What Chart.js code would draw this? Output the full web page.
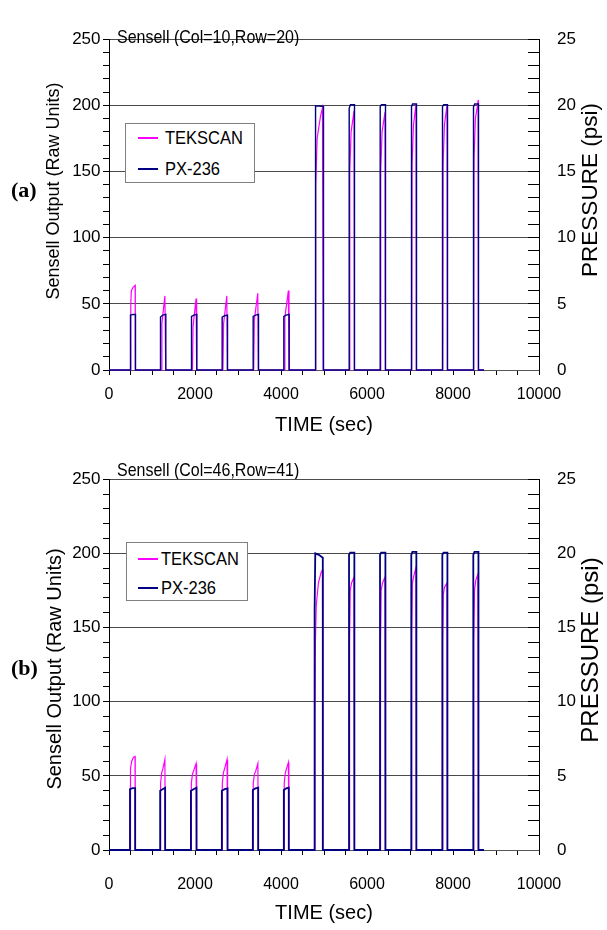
<!DOCTYPE html>
<html>
<head>
<meta charset="utf-8">
<script src="https://cdn.jsdelivr.net/npm/chart.js@4.4.1/dist/chart.umd.min.js"></script>
<style>
  html, body { margin: 0; padding: 0; background: #fff; }
  #wrap { position: relative; width: 607px; height: 930px; overflow: hidden; background: #fff;
          font-family: "Liberation Sans", Arial, sans-serif; color: #000; }
  canvas { position: absolute; left: 0; }
  .txt { position: absolute; white-space: nowrap; line-height: 1; transform-origin: 0 50%; transform: scaleY(1.12); }
  .rot { position: absolute; white-space: nowrap; line-height: 1; transform: translate(-50%, -50%) rotate(-90deg); }
  .panel { position: absolute; font-family: "Liberation Serif", "Times New Roman", serif; font-weight: bold; font-size: 22px; line-height: 1; }
  .legend { position: absolute; border: 1px solid #808080; background: #fff; box-sizing: border-box; }
  .lrow { position: absolute; left: 0; right: 0; height: 20px; }
  .sw { position: absolute; top: 9px; width: 20px; height: 2px; }
  .lt { position: absolute; top: 1px; font-size: 16.5px; line-height: 1; transform-origin: 0 50%; transform: scaleY(1.1); }
</style>
</head>
<body>
<div id="wrap">
  <canvas id="chartA" width="607" height="440" style="top:0px;width:607px;height:440px"></canvas>
  <canvas id="chartB" width="607" height="490" style="top:440px;width:607px;height:490px"></canvas>

  <div class="rot" style="left:53px;top:191px;font-size:18px">Sensell Output (Raw Units)</div>
  <div class="rot" style="left:590px;top:190px;font-size:22.5px">PRESSURE (psi)</div>
  <div class="rot" style="left:54px;top:669px;font-size:20px">Sensell Output (Raw Units)</div>
  <div class="rot" style="left:590px;top:650px;font-size:24px">PRESSURE (psi)</div>

  <div class="panel" style="left:11px;top:179px">(a)</div>
  <div class="panel" style="left:11px;top:657px">(b)</div>

  <div class="txt" style="left:117px;top:29px;font-size:16px">Sensell (Col=10,Row=20)</div>
  <div class="txt" style="left:117px;top:462px;font-size:16px">Sensell (Col=46,Row=41)</div>

  <div class="legend" style="left:125px;top:123px;width:130px;height:60px">
    <div class="lrow" style="top:4px"><div class="sw" style="left:12px;background:#ff00ff"></div><div class="lt" style="left:39px">TEKSCAN</div></div>
    <div class="lrow" style="top:35px"><div class="sw" style="left:12px;background:#000080"></div><div class="lt" style="left:39px">PX-236</div></div>
  </div>
  <div class="legend" style="left:126px;top:542px;width:122px;height:59px">
    <div class="lrow" style="top:6px"><div class="sw" style="left:11px;background:#ff00ff"></div><div class="lt" style="left:34px">TEKSCAN</div></div>
    <div class="lrow" style="top:35px"><div class="sw" style="left:11px;background:#000080"></div><div class="lt" style="left:34px">PX-236</div></div>
  </div>
</div>

<script>
// ---------- axis ranges / labels ----------
const timeRange = [0, 10000];        // TIME (sec)
const rawRange = [0, 250];           // Sensell Output (Raw Units)
const psiRange = [0, 25];            // PRESSURE (psi)
const seriesNames = ['TEKSCAN', 'PX-236'];

// ---------- panel (a): Sensell (Col=10,Row=20) ----------
const pxTimeA = [0,
  500,500,560,616,616,
  1198,1198,1250,1321,1321,
  1919,1919,1975,2042,2042,
  2632,2632,2690,2756,2756,
  3353,3353,3410,3477,3477,
  4066,4066,4120,4190,4190,
  4795,4795,4812,4900,4988,4988,
  5586,5586,5615,5709,5709,
  6307,6307,6335,6430,6430,
  7035,7035,7060,7151,7151,
  7756,7756,7785,7872,7872,
  8477,8477,8505,8593,8593,
  8720];
const pxPsiA = [0,
  0,4.15,4.2,4.2,0,
  0,4.0,4.15,4.2,0,
  0,4.05,4.15,4.2,0,
  0,4.0,4.1,4.15,0,
  0,4.05,4.15,4.2,0,
  0,4.05,4.15,4.2,0,
  0,16.2,19.95,19.95,19.9,0,
  0,19.8,20.05,20.05,0,
  0,19.9,20.05,20.05,0,
  0,19.9,20.1,20.1,0,
  0,19.9,20.05,20.05,0,
  0,19.9,20.1,20.1,0,
  0];
const tekTimeA = [0,
  505,507,520,560,608,612,
  1215,1230,1300,1318,
  1940,1955,2025,2038,
  2650,2665,2740,2752,
  3365,3380,3460,3473,
  4075,4090,4172,4186,
  4800,4808,4840,4920,4965,4980,
  5592,5600,5630,5700,5706,
  6313,6320,6350,6420,6427,
  7040,7048,7080,7140,7148,
  7762,7770,7800,7862,7869,
  8482,8490,8520,8570,8585,8590,
  8720];
const tekRawA = [0,
  0,50,60,62.5,64,0,
  0,35,56,0,
  0,33,54,0,
  0,35,56,0,
  0,38,58,0,
  0,40,60,0,
  0,140,175,192,198,0,
  0,150,180,196,0,
  0,150,180,195,0,
  0,155,185,201,0,
  0,155,185,200.5,0,
  0,160,190,200,204,0,
  0];

// ---------- panel (b): Sensell (Col=46,Row=41) ----------
const pxTimeB = [0,
  488,488,550,609,609,
  1190,1190,1245,1306,1306,
  1905,1905,1965,2035,2035,
  2624,2624,2690,2756,2756,
  3345,3345,3405,3470,3470,
  4066,4066,4120,4181,4181,
  4782,4782,4797,4880,4972,4972,
  5582,5582,5610,5706,5706,
  6303,6303,6330,6428,6428,
  7030,7030,7055,7148,7148,
  7752,7752,7780,7870,7870,
  8472,8472,8500,8592,8592,
  8720];
const pxPsiB = [0,
  0,4.1,4.17,4.17,0,
  0,4.0,4.1,4.2,0,
  0,4.0,4.1,4.2,0,
  0,4.0,4.1,4.15,0,
  0,4.05,4.15,4.2,0,
  0,4.05,4.15,4.2,0,
  0,16.2,20.0,19.9,19.7,0,
  0,19.9,20.05,20.05,0,
  0,19.9,20.05,20.05,0,
  0,19.9,20.1,20.1,0,
  0,19.9,20.05,20.05,0,
  0,19.9,20.1,20.1,0,
  0];
const tekTimeB = [0,
  492,495,505,530,570,605,610,
  1195,1200,1225,1255,1300,1308,
  1910,1915,1940,1975,2025,2037,
  2630,2635,2660,2690,2745,2758,
  3350,3355,3380,3410,3462,3472,
  4070,4075,4100,4130,4172,4183,
  4785,4788,4790,4800,4820,4870,4930,4965,4975,
  5590,5595,5610,5640,5700,5708,
  6310,6315,6330,6360,6420,6430,
  7035,7040,7055,7090,7140,7150,
  7757,7762,7775,7800,7860,7870,
  8478,8483,8500,8530,8580,8592,
  8720];
const tekRawB = [0,
  0,48,55,60,62.5,63,0,
  0,45,52,55,61,0,
  0,45,51,54,58.3,0,
  0,45,52,55,61,0,
  0,45,51,53,58.3,0,
  0,45,52,55,59,0,
  0,68,89,140,165,180,187,189,0,
  0,140,175,180,184,0,
  0,140,175,180,184,0,
  0,145,180,185,190.5,0,
  0,140,172,177,180,0,
  0,140,175,182,186,0,
  0];

// ---------- chart builder ----------
Chart.defaults.font.family = '"Liberation Sans", Arial, sans-serif';
Chart.defaults.color = '#000';

function pts(ts, vs) { return ts.map((t, i) => ({ x: t, y: vs[i] })); }

function makeChart(id, pxT, pxV, tkT, tkV, geo) {
  return new Chart(document.getElementById(id), {
    type: 'scatter',
    data: {
      datasets: [
        { label: seriesNames[1], data: pts(pxT, pxV), yAxisID: 'y2', showLine: true,
          borderColor: '#000080', backgroundColor: '#000080', borderWidth: geo.pxWidth,
          pointRadius: 0, tension: 0, fill: false, clip: false },
        { label: seriesNames[0], data: pts(tkT, tkV), yAxisID: 'y', showLine: true,
          borderColor: '#ff00ff', backgroundColor: '#ff00ff', borderWidth: 1.2,
          pointRadius: 0, tension: 0, fill: false, clip: false }
      ]
    },
    options: {
      responsive: false,
      animation: false,
      devicePixelRatio: 1,
      layout: { padding: { top: geo.padTop, left: 0, right: 0, bottom: 0 } },
      plugins: { legend: { display: false }, tooltip: { enabled: false } },
      scales: {
        x: {
          type: 'linear', position: 'bottom', min: timeRange[0], max: timeRange[1],
          ticks: { stepSize: 500, autoSkip: false, maxRotation: 0, minRotation: 0,
                   padding: geo.xTickPad, font: { size: 16 }, color: '#000',
                   callback: v => (v % 2000 === 0 ? String(v) : '') },
          grid: { drawOnChartArea: false, tickLength: 5, tickColor: '#000', color: '#000' },
          border: { color: '#555', width: 1 },
          title: { display: true, text: 'TIME (sec)', font: { size: 20 }, color: '#000',
                   padding: { top: 0, bottom: geo.xTitlePad } },
          afterFit: s => { s.height = geo.xAxisH; }
        },
        y: {
          type: 'linear', position: 'left', min: rawRange[0], max: rawRange[1],
          ticks: { stepSize: 10, autoSkip: false, padding: 2.5, font: { size: 17 }, color: '#000',
                   callback: v => (v % 50 === 0 ? String(v) : '') },
          grid: { color: c => (c.tick && c.tick.value % 50 === 0 ? '#4a4a4a' : 'rgba(0,0,0,0)'),
                  tickColor: '#000', tickLength: 6, lineWidth: 1 },
          border: { color: '#000', width: 1 },
          afterFit: s => { s.width = 109; }
        },
        y2: {
          type: 'linear', position: 'right', min: psiRange[0], max: psiRange[1],
          ticks: { stepSize: 1, autoSkip: false, padding: 29, font: { size: 17 }, color: '#000',
                   callback: v => (v % 5 === 0 ? String(v) : '') },
          grid: { drawOnChartArea: false, tickColor: '#000', tickLength: -11, lineWidth: 1 },
          border: { color: '#000', width: 1 },
          afterFit: s => { s.width = 68; }
        }
      }
    }
  });
}

makeChart('chartA', pxTimeA, pxPsiA, tekTimeA, tekRawA,
  { padTop: 15, xAxisH: 70, xTickPad: 10, xTitlePad: 3, pxWidth: 1.4 });
makeChart('chartB', pxTimeB, pxPsiB, tekTimeB, tekRawB,
  { padTop: 10, xAxisH: 80, xTickPad: 20, xTitlePad: 5, pxWidth: 1.8 });
</script>
</body>
</html>
